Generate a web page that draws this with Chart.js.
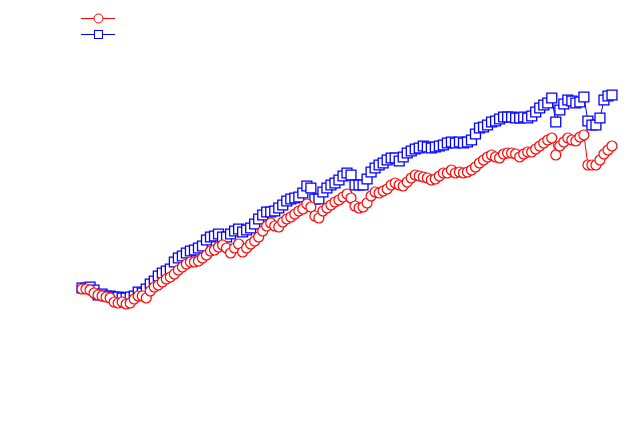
<!DOCTYPE html>
<html>
<head>
<meta charset="utf-8">
<script src="https://cdn.jsdelivr.net/npm/chart.js"></script>
<style>
  body { margin: 0; background: #fff; }
  #wrap { width: 630px; height: 436px; }
</style>
</head>
<body>
<div id="wrap"><canvas id="mycanvas" width="630" height="436"></canvas></div>
<script>
// values (arbitrary units, same for both series)
var redValues = [
  11, 11, 10, 7, 5, 4, 3, 2, -2, -3,
  -2, -4, -3, 1, 4, 4, 2, 9, 13, 15,
  18, 21, 23, 26, 30, 33, 36, 38, 38, 39,
  42, 45, 49, 50, 53, 55, 52, 47, 52, 56,
  48, 52, 56, 59, 63, 69, 74, 77, 74, 73,
  78, 81, 83, 86, 89, 91, 96, 93, 84, 82,
  89, 92, 95, 98, 100, 103, 106, 102, 94, 92,
  93, 97, 104, 108, 107, 109, 111, 115, 117, 115,
  114, 118, 122, 125, 124, 123, 122, 120, 121, 124,
  127, 127, 130, 127, 128, 127, 128, 130, 133, 137,
  140, 143, 145, 143, 142, 146, 147, 147, 146, 143,
  146, 148, 148, 151, 154, 157, 160, 162, 145, 154,
  158, 162, 160, 159, 163, 165, 135, 135, 135, 140,
  146, 150, 154
];
var blueValues = [
  12, 12, 13, 10, 5, 6, 4, 4, 3, 3,
  2, 2, 3, 4, 8, 7, 11, 16, 19, 24,
  27, 29, 31, 38, 42, 44, 47, 49, 50, 52,
  54, 60, 63, 64, 66, 63, 63, 66, 69, 71,
  68, 70, 72, 76, 81, 85, 88, 88, 89, 92,
  95, 99, 101, 102, 103, 107, 114, 112, 101, 101,
  108, 112, 115, 117, 120, 124, 127, 125, 115, 115,
  115, 121, 128, 132, 135, 137, 140, 142, 142, 139,
  143, 147, 149, 151, 152, 154, 153, 152, 153, 154,
  155, 157, 158, 157, 158, 157, 158, 160, 166, 172,
  173, 175, 178, 179, 181, 183, 183, 183, 182, 182,
  183, 182, 184, 188, 192, 195, 197, 202, 178, 190,
  196, 200, 199, 197, 198, 203, 179, 175, 175, 182,
  200, 204, 205
];
var periods = [];
for (var i = 0; i < redValues.length; i++) {
  periods.push(String(i + 1));
}

// legend: line with a marker, no text (as in the picture)
var lineLegend = {
  id: 'lineLegend',
  afterDraw: function(chart) {
    var ctx = chart.ctx;
    ctx.save();
    ctx.lineWidth = 1;
    // red circle entry
    ctx.strokeStyle = '#ff0000';
    ctx.beginPath();
    ctx.moveTo(81, 18.5);
    ctx.lineTo(115, 18.5);
    ctx.stroke();
    ctx.fillStyle = '#ffffff';
    ctx.beginPath();
    ctx.arc(98.5, 18.5, 4.5, 0, Math.PI * 2);
    ctx.fill();
    ctx.stroke();
    // blue square entry
    ctx.strokeStyle = '#0000ff';
    ctx.beginPath();
    ctx.moveTo(81, 34.5);
    ctx.lineTo(115, 34.5);
    ctx.stroke();
    ctx.fillRect(94, 30, 9, 9);
    ctx.strokeRect(94.5, 30.5, 8, 8);
    ctx.restore();
  }
};

var chartdata = {
  labels: periods,
  datasets: [
    {
      label: 'red',
      data: redValues,
      borderColor: '#ff0000',
      backgroundColor: '#ffffff',
      borderWidth: 1,
      pointStyle: 'circle',
      pointRadius: 5,
      pointBorderWidth: 1.2,
      pointBorderColor: '#ff0000',
      pointBackgroundColor: '#ffffff',
      tension: 0,
      clip: false
    },
    {
      label: 'blue',
      data: blueValues,
      borderColor: '#0000ff',
      backgroundColor: '#ffffff',
      borderWidth: 1,
      pointStyle: 'rect',
      pointRadius: 7,
      pointBorderWidth: 1.3,
      pointBorderColor: '#0000ff',
      pointBackgroundColor: '#ffffff',
      tension: 0,
      clip: false
    }
  ]
};

var ctx = document.getElementById('mycanvas');
var lineGraph = new Chart(ctx, {
  type: 'line',
  data: chartdata,
  plugins: [lineLegend],
  options: {
    responsive: false,
    animation: false,
    layout: {
      autoPadding: false,
      padding: { left: 82, right: 18, top: 0, bottom: 0 }
    },
    plugins: {
      legend: { display: false },
      tooltip: { enabled: false }
    },
    scales: {
      x: { type: 'category', offset: false, display: false },
      y: { min: -136, max: 300, display: false }
    }
  }
});
</script>
</body>
</html>
